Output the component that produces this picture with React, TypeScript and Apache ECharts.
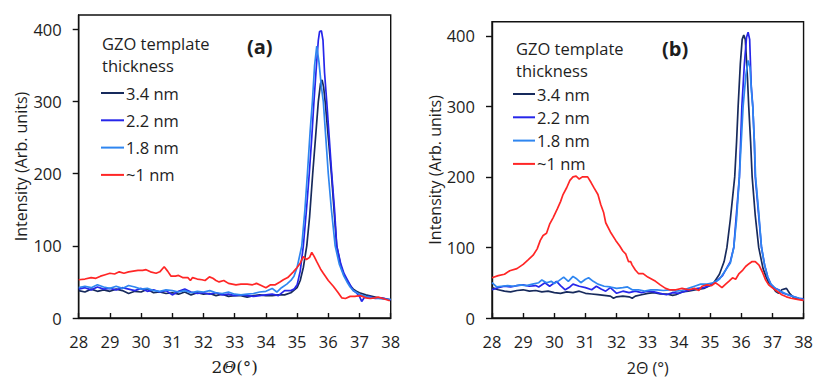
import React, { useEffect, useRef } from "react";
import * as echarts from "echarts";

const names = ["3.4 nm", "2.2 nm", "1.8 nm", "~1 nm"];
const colors = ["#172a5c", "#2626ea", "#2f86f0", "#ff2626"];
const xTicks = [28, 29, 30, 31, 32, 33, 34, 35, 36, 37, 38];
const yTicks = [0, 100, 200, 300, 400];

// Panel (a)
const a34 = [[28,38],[28.2,36],[28.4,40],[28.6,37],[28.8,39],[29,37],[29.2,40],[29.4,38],[29.6,34],[29.8,37],[30,36],[30.2,40],[30.4,35],[30.6,36],[30.8,34],[31,35],[31.2,33],[31.4,36],[31.6,32],[31.8,35],[32,33],[32.2,34],[32.4,31],[32.6,33],[32.8,30],[33,31],[33.2,31],[33.4,29],[33.6,31],[33.8,32],[34,31],[34.2,31],[34.4,32],[34.6,32],[34.8,35],[35,42],[35.1,52],[35.2,70],[35.31,100],[35.4,140],[35.5,200],[35.6,255],[35.68,300],[35.75,325],[35.8,330],[35.85,320],[35.9,300],[36,250],[36.1,200],[36.2,140],[36.27,100],[36.4,72],[36.5,60],[36.6,52],[36.7,45],[36.8,40],[36.9,37],[37,35],[37.2,32],[37.4,30],[37.6,28],[37.8,27],[38,25]];
const a22 = [[28,40],[28.2,42],[28.4,39],[28.6,43],[28.8,40],[29,41],[29.2,39],[29.4,42],[29.6,40],[29.8,38],[30,41],[30.2,37],[30.4,39],[30.6,36],[30.8,38],[31,32],[31.2,37],[31.4,40],[31.6,36],[31.8,34],[32,35],[32.2,33],[32.4,35],[32.6,32],[32.8,33],[33,31],[33.2,32],[33.4,31],[33.6,30],[33.8,31],[34,32],[34.2,33],[34.4,31],[34.6,38],[34.8,38],[34.9,40],[35,46],[35.1,65],[35.2,100],[35.3,150],[35.39,200],[35.47,250],[35.54,300],[35.62,350],[35.68,385],[35.72,397],[35.78,398],[35.83,385],[35.88,340],[35.95,300],[36.03,250],[36.11,200],[36.2,150],[36.27,100],[36.4,75],[36.5,62],[36.6,54],[36.7,46],[36.8,38],[36.9,35],[37,30],[37.07,23],[37.15,28],[37.3,30],[37.5,27],[37.7,28],[37.9,26],[38,25]];
const a18 = [[28,42],[28.2,44],[28.4,42],[28.6,46],[28.8,43],[29,41],[29.2,44],[29.4,41],[29.6,45],[29.8,43],[30,40],[30.2,41],[30.4,38],[30.6,37],[30.8,39],[31,38],[31.2,36],[31.4,38],[31.6,35],[31.8,37],[32,36],[32.2,38],[32.4,35],[32.6,34],[32.8,36],[33,33],[33.2,32],[33.4,33],[33.6,34],[33.8,36],[34,37],[34.2,41],[34.35,36],[34.5,42],[34.67,47],[34.8,52],[34.9,58],[35,70],[35.15,100],[35.25,150],[35.33,200],[35.42,260],[35.49,300],[35.56,350],[35.63,377],[35.7,355],[35.78,320],[35.84,300],[35.92,250],[36,200],[36.1,150],[36.22,100],[36.35,75],[36.5,58],[36.6,50],[36.7,43],[36.8,38],[37,33],[37.2,30],[37.4,28],[37.6,27],[37.8,26],[38,26]];
const a1 = [[28,53],[28.2,54],[28.4,56],[28.55,55],[28.7,58],[28.85,60],[29,62],[29.15,61],[29.3,64],[29.45,62],[29.6,64],[29.75,65],[29.9,66],[30.05,66],[30.16,67],[30.3,64],[30.48,62],[30.6,64],[30.74,71],[30.85,65],[30.96,58],[31.1,58],[31.2,59],[31.33,56],[31.5,56],[31.58,52],[31.65,56],[31.8,54],[31.95,53],[32.05,52],[32.19,57],[32.3,55],[32.4,52],[32.5,50],[32.65,52],[32.8,48],[33.04,46],[33.2,47],[33.4,47],[33.57,46],[33.7,48],[33.85,45],[34,42],[34.15,46],[34.3,46],[34.45,50],[34.56,53],[34.7,56],[34.88,64],[35,70],[35.1,76],[35.2,85],[35.3,81],[35.4,84],[35.47,91],[35.55,85],[35.63,78],[35.75,68],[35.84,62],[36,52],[36.16,44],[36.3,36],[36.43,28],[36.55,27],[36.7,30],[36.85,30],[37.02,31],[37.2,28],[37.34,27],[37.5,28],[37.6,29],[37.75,27],[37.97,24]];

// Panel (b)
const b34 = [[28,43],[28.2,40],[28.4,38],[28.6,37],[28.8,39],[29,40],[29.2,38],[29.4,39],[29.6,37],[29.8,38],[30,36],[30.2,35],[30.4,37],[30.6,36],[30.8,38],[31,35],[31.2,34],[31.4,33],[31.6,32],[31.8,31],[31.9,28],[32,30],[32.2,31],[32.4,30],[32.5,28],[32.6,31],[32.8,33],[33,35],[33.2,36],[33.4,34],[33.6,34],[33.8,32],[33.9,33],[34.1,37],[34.3,38],[34.55,40],[34.8,42],[35,46],[35.12,50],[35.3,62],[35.45,80],[35.54,100],[35.65,140],[35.72,170],[35.79,200],[35.85,250],[35.9,300],[35.97,360],[36.03,395],[36.08,401],[36.13,395],[36.2,340],[36.24,300],[36.3,250],[36.35,200],[36.45,145],[36.56,100],[36.7,70],[36.8,58],[36.88,50],[37,45],[37.1,38],[37.2,35],[37.3,40],[37.45,42],[37.55,35],[37.7,28],[37.85,27],[38,25]];
const b22 = [[28,40],[28.2,43],[28.4,45],[28.6,44],[28.8,46],[29,47],[29.2,45],[29.4,46],[29.5,44],[29.7,50],[29.85,45],[30.07,52],[30.2,46],[30.35,40],[30.5,44],[30.6,48],[30.8,45],[31,43],[31.2,40],[31.35,45],[31.5,41],[31.65,38],[31.8,43],[32,35],[32.2,38],[32.4,36],[32.6,38],[32.8,36],[33,38],[33.2,37],[33.4,35],[33.6,33],[33.8,36],[34,35],[34.2,38],[34.4,40],[34.6,42],[34.8,43],[35,46],[35.2,52],[35.4,60],[35.55,72],[35.65,80],[35.76,100],[35.85,150],[35.94,200],[35.98,250],[36.02,300],[36.1,360],[36.17,398],[36.22,405],[36.27,395],[36.32,330],[36.37,300],[36.42,250],[36.45,200],[36.55,150],[36.65,100],[36.75,75],[36.85,58],[36.95,48],[37.05,43],[37.2,40],[37.35,35],[37.5,33],[37.7,30],[37.85,28],[38,27]];
const b18 = [[28,50],[28.15,44],[28.3,45],[28.5,46],[28.7,45],[28.9,47],[29.1,46],[29.3,48],[29.5,50],[29.6,54],[29.75,50],[29.9,52],[30,49],[30.15,53],[30.3,58],[30.45,52],[30.6,59],[30.7,56],[30.85,50],[31,55],[31.1,57],[31.25,52],[31.4,48],[31.6,45],[31.8,44],[32,42],[32.2,43],[32.35,44],[32.5,40],[32.7,40],[32.9,38],[33.1,40],[33.3,40],[33.5,39],[33.7,40],[33.9,38],[34.1,39],[34.3,42],[34.5,45],[34.7,48],[34.9,48],[35.1,50],[35.3,55],[35.5,68],[35.65,78],[35.76,100],[35.85,140],[35.94,200],[36,250],[36.06,300],[36.15,345],[36.22,365],[36.28,355],[36.33,320],[36.37,300],[36.42,250],[36.46,200],[36.56,150],[36.65,100],[36.75,75],[36.85,58],[36.95,48],[37.1,42],[37.3,37],[37.5,33],[37.7,30],[37.85,28],[38,26]];
const b1 = [[28,57],[28.2,60],[28.4,62],[28.57,67],[28.8,70],[29,76],[29.15,82],[29.32,89],[29.45,98],[29.55,110],[29.64,117],[29.75,120],[29.85,133],[29.96,142],[30.1,155],[30.2,165],[30.28,175],[30.4,185],[30.5,195],[30.6,200],[30.7,201],[30.8,197],[30.9,200],[31.07,200],[31.18,192],[31.28,184],[31.4,175],[31.49,161],[31.58,150],[31.65,135],[31.8,122],[31.97,110],[32.1,102],[32.2,95],[32.29,91],[32.38,80],[32.45,80],[32.5,75],[32.6,68],[32.7,63],[32.85,63],[33,58],[33.25,52],[33.4,47],[33.57,42],[33.7,40],[33.9,40],[34.1,42],[34.32,40],[34.5,42],[34.64,39],[34.74,45],[34.9,47],[35.05,46],[35.17,50],[35.27,47],[35.38,43],[35.5,48],[35.6,52],[35.72,57],[35.82,55],[35.93,63],[36.05,68],[36.14,73],[36.25,77],[36.35,80],[36.45,80],[36.57,75],[36.68,65],[36.78,54],[36.88,47],[36.99,43],[37.15,38],[37.3,33],[37.45,30],[37.6,28],[37.84,26],[38,25]];

const panelA = [a34, a22, a18, a1];
const panelB = [b34, b22, b18, b1];

const FONT = '"Open Sans", "Noto Sans", sans-serif';
const TXT = "#1e1e1e";

function makeX(gridIndex: number, name: string, nameGap: number, rich?: any) {
  return {
    type: "value",
    gridIndex,
    min: 28,
    max: 38,
    interval: 1,
    name,
    nameLocation: "middle",
    nameGap,
    nameTextStyle: { fontSize: 16, color: TXT, fontFamily: FONT, rich },
    axisLine: { show: true, onZero: false, lineStyle: { color: "#111", width: 1.4 } },
    axisTick: { show: true, inside: true, length: 5, customValues: xTicks, lineStyle: { color: "#111", width: 1.4 } },
    axisLabel: { margin: 15, fontSize: 16.5, color: TXT, fontFamily: FONT, customValues: xTicks },
    splitLine: { show: false },
  };
}

function makeY(gridIndex: number, nameGap: number) {
  return {
    type: "value",
    gridIndex,
    min: 0,
    max: 420,
    interval: 100,
    name: "Intensity (Arb. units)",
    nameLocation: "middle",
    nameGap,
    nameTextStyle: { fontSize: 16, color: TXT, fontFamily: FONT },
    axisLine: { show: true, lineStyle: { color: "#111", width: 1.4 } },
    axisTick: { show: true, inside: false, length: 6, customValues: yTicks, lineStyle: { color: "#111", width: 1.4 } },
    axisLabel: {
      margin: 17,
      fontSize: 16.5,
      color: TXT,
      fontFamily: FONT,
      customValues: yTicks,
      formatter: (v: number) => (v % 100 === 0 ? String(v) : ""),
    },
    splitLine: { show: false },
  };
}

function makeSeries(data: number[][][], idx: number) {
  return data.map((d, i) => ({
    name: names[i],
    type: "line",
    xAxisIndex: idx,
    yAxisIndex: idx,
    data: d,
    showSymbol: false,
    symbol: "none",
    lineStyle: { width: 1.7, color: colors[i] },
    itemStyle: { color: colors[i] },
  }));
}

function legendAt(left: number, top: number, gap: number, w: number) {
  return {
    data: names,
    orient: "vertical",
    left,
    top,
    padding: 0,
    itemWidth: w,
    itemHeight: 2,
    itemGap: gap,
    icon: "rect",
    selectedMode: false,
    textStyle: { fontSize: 16.5, lineHeight: 20, color: TXT, fontFamily: FONT, padding: [0, 0, 0, -3] },
  };
}

function textEl(text: string, x: number, y: number, size = 16.5, weight = "normal") {
  return {
    type: "text",
    x,
    y,
    style: { text, fontSize: size, fontWeight: weight, fontFamily: FONT, fill: TXT, verticalAlign: "middle", align: "left" },
  };
}

export default function App() {
  const ref = useRef<HTMLDivElement>(null);
  useEffect(() => {
    document.body.style.margin = "0";
    if (!ref.current) return;
    const chart = echarts.init(ref.current, undefined, { renderer: "svg" });
    chart.setOption({
      animation: false,
      backgroundColor: "#fff",
      grid: [
        { left: 78.7, top: 15, right: 425.3, bottom: 63, show: true, borderColor: "#111", borderWidth: 1.4 },
        { left: 492, top: 21.7, right: 10.7, bottom: 58.7, show: true, borderColor: "#111", borderWidth: 1.4 },
      ],
      xAxis: [
        makeX(0, "{n|2}{i|Θ}{n|(°)}", 40, {
          n: { fontSize: 17, fontFamily: '"DejaVu Serif", serif', color: TXT },
          i: { fontSize: 17, fontFamily: '"DejaVu Serif", serif', fontStyle: "italic", color: TXT },
        }),
        makeX(1, "2Θ (°)", 42),
      ],
      yAxis: [makeY(0, 49), makeY(1, 47)],
      legend: [legendAt(101, 83, 7.3, 23), legendAt(513, 84, 3.3, 22)],
      graphic: [
        textEl("GZO template", 102, 43),
        textEl("thickness", 102, 65),
        textEl("(a)", 247, 46, 20, "bold"),
        textEl("GZO template", 516, 48),
        textEl("thickness", 516, 70),
        textEl("(b)", 662, 48, 20, "bold"),
      ],
      series: [...makeSeries(panelA, 0), ...makeSeries(panelB, 1)],
    });
    return () => chart.dispose();
  }, []);
  return <div ref={ref} style={{ width: 816, height: 381 }} />;
}
